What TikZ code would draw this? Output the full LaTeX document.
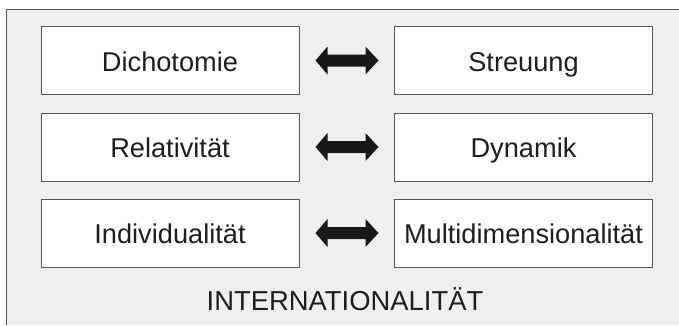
\documentclass[tikz,border=0pt]{standalone}
\usepackage{fontspec}
\setmainfont{Liberation Sans}
\usetikzlibrary{calc}
\definecolor{bggray}{HTML}{EFEFEF}
\definecolor{framegray}{HTML}{555555}
\definecolor{txt}{HTML}{1E1E1E}
\begin{document}
\begin{tikzpicture}[x=1pt,y=-1pt,
  conceptbox/.style={draw=framegray,line width=1pt,fill=white,minimum width=258pt,minimum height=68pt,inner sep=0pt,text height=21pt,text depth=0pt,text=txt,font=\fontsize{27.2}{30}\selectfont},
  biarrow/.style={fill=black!90}]
\useasboundingbox (0,0) rectangle (679,325);
\fill[bggray] (6,9) rectangle (679,325);
\draw[framegray,line width=1pt] (6,325) -- (6,9) -- (679,9);
\node[conceptbox] (l1) at (170,60.5) {Dichotomie};
\node[conceptbox] (r1) at (523.5,60.5) {Streuung};
\node[conceptbox] (l2) at (170,147) {Relativität};
\node[conceptbox] (r2) at (523.5,147) {Dynamik};
\node[conceptbox] (l3) at (170,233) {Individualität};
\node[conceptbox] (r3) at (523.5,233) {Multidimensionalität};
\foreach \i in {1,2,3}{
  \fill[biarrow] ($(l\i.east)+(16,0)$) -- ++(12,-14) -- ++(0,8) -- ++(38,0) -- ++(0,-8) -- ++(13,14) -- ++(-13,14) -- ++(0,-8) -- ++(-38,0) -- ++(0,8) -- cycle;
}
\node[text=txt,font=\fontsize{27.4}{30}\selectfont,anchor=base] (title) at (345,310) {INTERNATIONALITÄT};
\end{tikzpicture}
\end{document}
